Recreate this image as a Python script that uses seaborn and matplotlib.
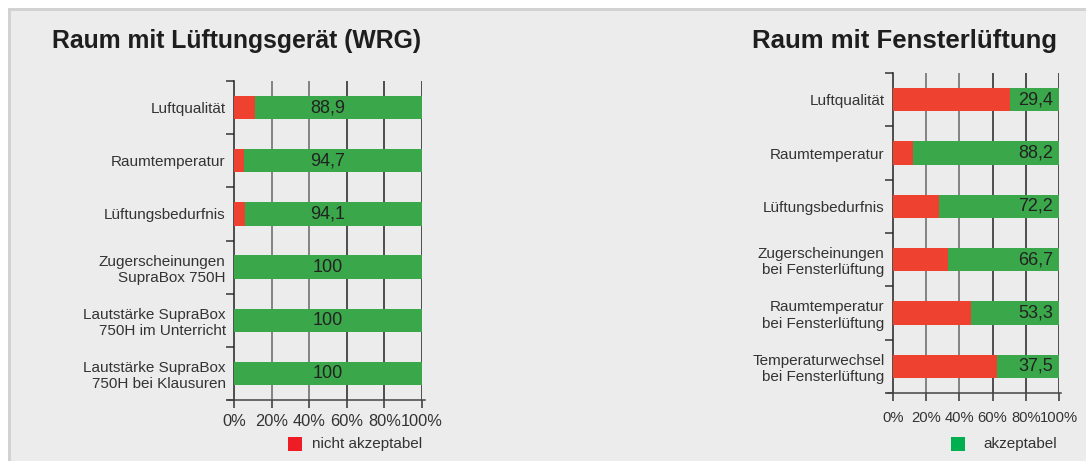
import matplotlib
matplotlib.use("Agg")
import matplotlib.pyplot as plt
import matplotlib.patches as mpatches
import seaborn as sns
import pandas as pd

# --- data ---
left_title = "Raum mit Lüftungsgerät (WRG)"
left_labels = ["Luftqualität", "Raumtemperatur", "Lüftungsbedurfnis",
               "Zugerscheinungen\nSupraBox 750H",
               "Lautstärke SupraBox\n750H im Unterricht",
               "Lautstärke SupraBox\n750H bei Klausuren"]
left_ok = [88.9, 94.7, 94.1, 100, 100, 100]
left_text = ["88,9", "94,7", "94,1", "100", "100", "100"]

right_title = "Raum mit Fensterlüftung"
right_labels = ["Luftqualität", "Raumtemperatur", "Lüftungsbedurfnis",
                "Zugerscheinungen\nbei Fensterlüftung",
                "Raumtemperatur\nbei Fensterlüftung",
                "Temperaturwechsel\nbei Fensterlüftung"]
right_ok = [29.4, 88.2, 72.2, 66.7, 53.3, 37.5]
right_text = ["29,4", "88,2", "72,2", "66,7", "53,3", "37,5"]

x_ticks = [0, 20, 40, 60, 80, 100]
x_ticklabels = ["0%", "20%", "40%", "60%", "80%", "100%"]

RED = "#ee412f"
GREEN = "#3aa84a"
BG = "#ececec"
TXT = "#333333"

sns.set_theme(style="white")
plt.rcParams['font.family'] = ['Liberation Sans', 'DejaVu Sans']

fig = plt.figure(figsize=(10.86, 4.61), dpi=100)
fig.patch.set_facecolor("white")
# panel background with grey border
fig.patches.append(mpatches.Rectangle((8 / 1086, 0), 1.0, 1 - 8 / 461, transform=fig.transFigure,
                                      facecolor="#d2d2d2", edgecolor="none", zorder=-2))
fig.patches.append(mpatches.Rectangle((11 / 1086, 0), 1.0, 1 - 11 / 461, transform=fig.transFigure,
                                      facecolor=BG, edgecolor="none", zorder=-1))


def draw_panel(rect, labels, ok, texts, label_x, xtick_size, xtick_pad):
    ax = fig.add_axes(rect)
    df = pd.DataFrame({"label": labels, "ok": ok})
    df["not_ok"] = 100 - df["ok"]
    df["total"] = 100
    # green full bar, red part drawn over it from the left
    sns.barplot(data=df, x="total", y="label", color=GREEN, saturation=1,
                width=0.44, linewidth=0, ax=ax, zorder=3)
    sns.barplot(data=df, x="not_ok", y="label", color=RED, saturation=1,
                width=0.44, linewidth=0, ax=ax, zorder=4)
    for i, t in enumerate(texts):
        ax.text(label_x, i, t, ha="center", va="center", fontsize=13,
                color="#222222", zorder=5)
    ax.set_facecolor("none")
    ax.set_xlim(0, 100)
    ax.set_ylim(len(labels) - 0.5, -0.5)
    ax.set_xlabel("")
    ax.set_ylabel("")
    ax.set_xticks(x_ticks)
    ax.set_xticklabels(x_ticklabels, fontsize=xtick_size, color=TXT)
    for x in x_ticks[1:]:
        ax.axvline(x, color="#666666" if x < 60 else "#222222", lw=1.1, zorder=1)
    ax.tick_params(axis="x", bottom=True, direction="out", length=6, width=1.1,
                   color="#333333", pad=xtick_pad)
    ax.set_yticks(range(len(labels)))
    ax.set_yticklabels(labels, fontsize=11, color=TXT, linespacing=1.2)
    ax.tick_params(axis="y", which="major", left=True, length=0, pad=6)
    ax.set_yticks([i - 0.5 for i in range(len(labels) + 1)], minor=True)
    ax.tick_params(axis="y", which="minor", left=True, direction="out", length=6,
                   width=1.1, color="#333333")
    for s in ["top", "right"]:
        ax.spines[s].set_visible(False)
    ax.spines["left"].set_color("#222222")
    ax.spines["left"].set_linewidth(1.1)
    ax.spines["bottom"].set_color("#444444")
    ax.spines["bottom"].set_linewidth(1.1)
    ax.spines["bottom"].set_bounds(-3, 101.5)
    ax.spines["bottom"].set_clip_on(False)
    return ax


ax1 = draw_panel([234 / 1086, 1 - 400 / 461, 188 / 1086, 319 / 461],
                 left_labels, left_ok, left_text, 50, 11.8, 4)
ax2 = draw_panel([893 / 1086, 1 - 393 / 461, 166 / 1086, 320 / 461],
                 right_labels, right_ok, right_text, 86, 10.6, 7)

fig.text(52 / 1086, 1 - 41 / 461, left_title, fontsize=17.8, fontweight="bold",
         color="#1e1e1e", va="center", ha="left")
fig.text(1057 / 1086, 1 - 41 / 461, right_title, fontsize=18.5, fontweight="bold",
         color="#1e1e1e", va="center", ha="right")

# legends
fig.patches.append(mpatches.Rectangle((288 / 1086, 1 - 451 / 461), 14 / 1086, 14 / 461,
                                      transform=fig.transFigure, facecolor="#ee1c25", edgecolor="none"))
fig.text(312 / 1086, 1 - 444 / 461, "nicht akzeptabel", fontsize=11, color=TXT, va="center")
fig.patches.append(mpatches.Rectangle((951 / 1086, 1 - 451 / 461), 14 / 1086, 14 / 461,
                                      transform=fig.transFigure, facecolor="#00b050", edgecolor="none"))
fig.text(983 / 1086, 1 - 444 / 461, "akzeptabel", fontsize=11, color=TXT, va="center")

fig.savefig("out.png", dpi=100, facecolor=fig.get_facecolor())
